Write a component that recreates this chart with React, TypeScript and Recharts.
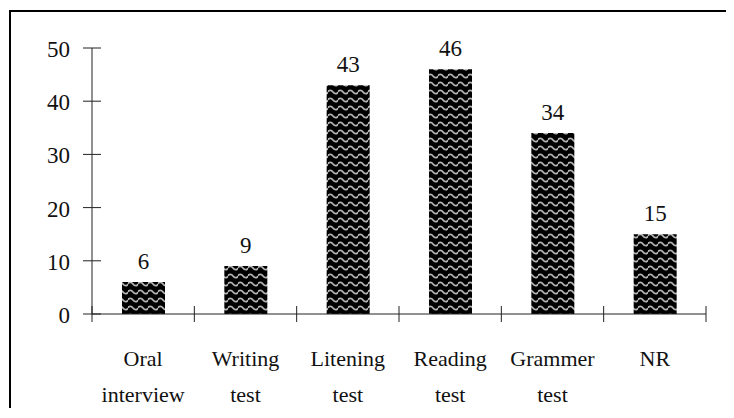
import { BarChart, Bar, XAxis, YAxis, LabelList } from 'recharts';

const categories = ['Oral interview', 'Writing test', 'Litening test', 'Reading test', 'Grammer test', 'NR'];
const counts = [6, 9, 43, 46, 34, 15];
const yTicks = [0, 10, 20, 30, 40, 50];

const data = categories.map((name, i) => ({ name, count: counts[i] }));

const FONT = 'Liberation Serif';
const PLOT_W = 614;
const BAND = PLOT_W / categories.length;

function YTick(props: any /* eslint-disable-line @typescript-eslint/no-explicit-any */) {
  const { x, y, payload } = props;
  return (
    <g>
      <line x1={x - 9} x2={x + 9} y1={y} y2={y} stroke="#222" strokeWidth={1} />
      <text x={x - 22} y={y + 9} textAnchor="end" fontFamily={FONT} fontSize={23} fill="#111">
        {payload.value}
      </text>
    </g>
  );
}

function XTick(props: any /* eslint-disable-line @typescript-eslint/no-explicit-any */) {
  const { x, y, payload, index } = props;
  const lines = String(payload.value).split(' ');
  const left = x - BAND / 2;
  return (
    <g>
      <line x1={left} x2={left} y1={y - 8} y2={y + 8} stroke="#222" strokeWidth={1} />
      {index === categories.length - 1 && (
        <line x1={x + BAND / 2} x2={x + BAND / 2} y1={y - 8} y2={y + 8} stroke="#222" strokeWidth={1} />
      )}
      {lines.map((t, i) => (
        <text key={i} x={x} y={y + 52 + i * 36} textAnchor="middle" fontFamily={FONT} fontSize={22} fill="#111">
          {t}
        </text>
      ))}
    </g>
  );
}

export default function App() {
  return (
    <div style={{ position: 'relative', width: 726, height: 400, overflow: 'hidden', lineHeight: 0 }}>
      <style>{'html, body { overflow: hidden; }'}</style>
      <svg width={0} height={0} style={{ position: 'absolute' }}>
        <defs>
          <pattern id="wave" width={10} height={8} patternUnits="userSpaceOnUse">
            <rect width={10} height={8} fill="#000" />
            <path d="M-0.5 4 Q2.5 0.8 5 4 Q7.5 7.2 10.5 4" fill="none" stroke="#b4b4b4" strokeWidth={1.8} />
          </pattern>
        </defs>
      </svg>
      <div
        style={{
          position: 'absolute',
          left: 1,
          top: 2,
          width: 722,
          height: 398,
          borderTop: '2px solid #000',
          borderLeft: '2px solid #000',
        }}
      />
      <div style={{ position: 'absolute', left: 0, top: 0 }}>
        <BarChart
          width={726}
          height={400}
          data={data}
          margin={{ top: 40, right: 28, bottom: 0, left: 0 }}
        >
          <XAxis
            dataKey="name"
            interval={0}
            height={94}
            tickSize={0}
            tickMargin={0}
            tickLine={false}
            axisLine={{ stroke: '#222', strokeWidth: 1 }}
            tick={<XTick />}
          />
          <YAxis
            width={84}
            domain={[0, 50]}
            ticks={yTicks}
            tickSize={0}
            tickMargin={0}
            tickLine={false}
            axisLine={{ stroke: '#222', strokeWidth: 1 }}
            tick={<YTick />}
          />
          <Bar dataKey="count" barSize={43} fill="url(#wave)" isAnimationActive={false}>
            <LabelList dataKey="count" position="top" offset={13} fontFamily={FONT} fontSize={23} fill="#111" />
          </Bar>
        </BarChart>
      </div>
    </div>
  );
}
